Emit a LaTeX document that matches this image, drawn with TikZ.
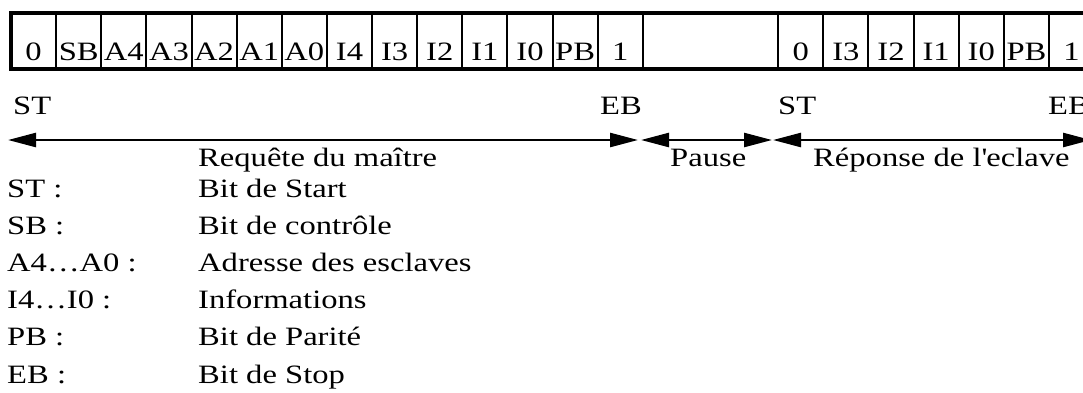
\documentclass[tikz,border=0pt]{standalone}
\usepackage{fontspec}
\setmainfont{Liberation Serif}[FakeStretch=1.23]
\usetikzlibrary{arrows.meta}
\begin{document}
\begin{tikzpicture}[x=1pt,y=-1pt,
  txt/.style={inner sep=0pt, font=\fontsize{26.5}{30}\selectfont},
  bitlbl/.style={txt, anchor=base},
  lbl/.style={txt, anchor=base west},
  frameline/.style={line width=4pt, line join=miter},
  divider/.style={line width=2pt},
  span/.style={line width=2.5pt,
    {Triangle[length=28pt,width=14pt]}-{Triangle[length=28pt,width=14pt]}},
]
\useasboundingbox (0,0) rectangle (1083,392);
\def\cw{45.13}
\def\xo{11}

% frame of the bit sequence
\draw[frameline] (1095,13) -- (\xo,13) -- (\xo,69) -- (1095,69);
\foreach \i in {1,...,14}
  \draw[divider] ({\xo+\i*\cw},13) -- ({\xo+\i*\cw},69);
\foreach \i in {17,...,23}
  \draw[divider] ({\xo+\i*\cw},13) -- ({\xo+\i*\cw},69);

% master request bits
\foreach \t [count=\i from 0] in {0,SB,A4,A3,A2,A1,A0,I4,I3,I2,I1,I0,PB,1}
  \node[bitlbl] (m\i) at ({\xo+(\i+0.5)*\cw},60) {\t};
% slave answer bits
\foreach \t [count=\i from 17] in {0,I3,I2,I1,I0,PB,1}
  \node[bitlbl] (s\i) at ({\xo+(\i+0.5)*\cw},60) {\t};

% start / stop markers
\node[lbl] (st1) at (13,114) {ST};
\node[lbl] (eb1) at (600,114) {EB};
\node[lbl] (st2) at (778,114) {ST};
\node[lbl] (eb2) at (1048,114) {EB};

% time spans
\coordinate (q0) at (8,140);
\coordinate (q1) at (638,140);
\coordinate (p0) at (641,140);
\coordinate (p1) at (772,140);
\coordinate (r0) at (773,140);
\coordinate (r1) at (1091,140);
\draw[span] (q0) -- (q1);
\draw[span] (p0) -- (p1);
\draw[span] (r0) -- (r1);

\node[lbl] (req) at (198,166) {Requête du maître};
\node[lbl] (pau) at (670,166) {Pause};
\node[lbl] (rep) at (813,166) {Réponse de l\textquotesingle eclave};

% legend
\foreach \abbr/\desc [count=\n from 0] in {ST :/Bit de Start, SB :/Bit de contrôle,
    A4…A0 :/Adresse des esclaves, I4…I0 :/Informations,
    PB :/Bit de Parité, EB :/Bit de Stop}{
  \node[lbl] (k\n) at (7,{197+\n*37.2}) {\abbr};
  \node[lbl] (d\n) at (198,{197+\n*37.2}) {\desc};
}
\end{tikzpicture}
\end{document}
